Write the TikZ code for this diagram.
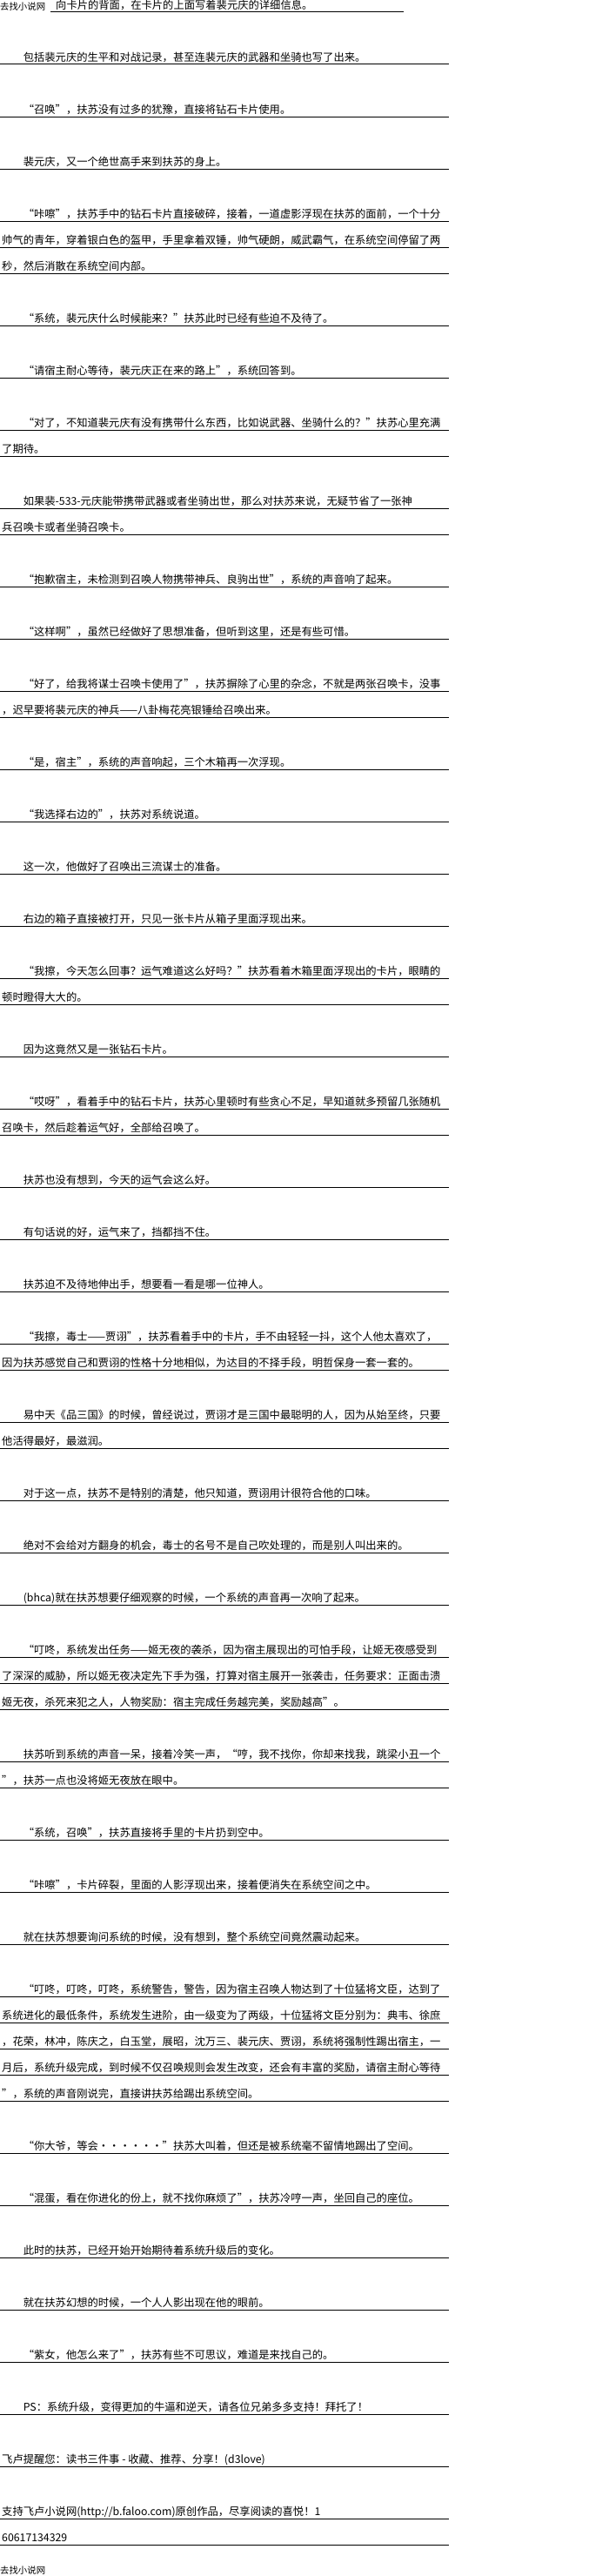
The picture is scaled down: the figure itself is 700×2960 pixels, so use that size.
\documentclass[tikz,border=0pt]{standalone}
\usepackage{fontspec}
\setmainfont{Noto Sans CJK SC}
\begin{document}
\begin{tikzpicture}[x=1pt,y=-1pt,
	txt/.style={anchor=base west,inner sep=0pt,font=\fontsize{12.3pt}{14pt}\selectfont},
	small/.style={anchor=base west,inner sep=0pt,font=\fontsize{10.4pt}{12pt}\selectfont}]
	\fill[white] (0,0) rectangle (700,2960);
	\useasboundingbox (0,0) rectangle (700,2960);
	% underlines
	\draw[line width=1pt] (58,14) -- (464,14);
	\foreach \r in {2,4,6,8,9,10,12,14,16,17,19,20,22,24,26,27,29,31,33,35,37,38,40,42,43,45,47,49,51,52,54,55,57,59,61,63,64,65,67,68,70,72,74,76,77,78,79,80,82,84,86,88,90,92,94,96,97}
		\draw[line width=1pt] (0,14+30*\r) -- +(516,0);
	% header and footer
	\node[small] (head) at (0,11.5) {去找小说网};
	\node[small] (foot) at (0,2957) {去找小说网};
	\node[txt] (r0) at (64,10.5) {向卡片的背面，在卡片的上面写着裴元庆的详细信息。};
	% first lines of paragraphs
	\foreach \r/\t in {2/包括裴元庆的生平和对战记录，甚至连裴元庆的武器和坐骑也写了出来。,
		4/“召唤”，扶苏没有过多的犹豫，直接将钻石卡片使用。,
		6/裴元庆，又一个绝世高手来到扶苏的身上。,
		8/“咔嚓”，扶苏手中的钻石卡片直接破碎，接着，一道虚影浮现在扶苏的面前，一个十分,
		12/“系统，裴元庆什么时候能来？”扶苏此时已经有些迫不及待了。,
		14/“请宿主耐心等待，裴元庆正在来的路上”，系统回答到。,
		16/“对了，不知道裴元庆有没有携带什么东西，比如说武器、坐骑什么的？”扶苏心里充满,
		19/如果裴-533-元庆能带携带武器或者坐骑出世，那么对扶苏来说，无疑节省了一张神,
		22/“抱歉宿主，未检测到召唤人物携带神兵、良驹出世”，系统的声音响了起来。,
		24/“这样啊”，虽然已经做好了思想准备，但听到这里，还是有些可惜。,
		26/“好了，给我将谋士召唤卡使用了”，扶苏摒除了心里的杂念，不就是两张召唤卡，没事,
		29/“是，宿主”，系统的声音响起，三个木箱再一次浮现。,
		31/“我选择右边的”，扶苏对系统说道。,
		33/这一次，他做好了召唤出三流谋士的准备。,
		35/右边的箱子直接被打开，只见一张卡片从箱子里面浮现出来。,
		37/“我擦，今天怎么回事？运气难道这么好吗？”扶苏看着木箱里面浮现出的卡片，眼睛的,
		40/因为这竟然又是一张钻石卡片。,
		42/“哎呀”，看着手中的钻石卡片，扶苏心里顿时有些贪心不足，早知道就多预留几张随机,
		45/扶苏也没有想到，今天的运气会这么好。,
		47/有句话说的好，运气来了，挡都挡不住。,
		49/扶苏迫不及待地伸出手，想要看一看是哪一位神人。,
		51/“我擦，毒士——贾诩”，扶苏看着手中的卡片，手不由轻轻一抖，这个人他太喜欢了，,
		54/易中天《品三国》的时候，曾经说过，贾诩才是三国中最聪明的人，因为从始至终，只要,
		57/对于这一点，扶苏不是特别的清楚，他只知道，贾诩用计很符合他的口味。,
		59/绝对不会给对方翻身的机会，毒士的名号不是自己吹处理的，而是别人叫出来的。,
		61/(bhca)就在扶苏想要仔细观察的时候，一个系统的声音再一次响了起来。,
		63/“叮咚，系统发出任务——姬无夜的袭杀，因为宿主展现出的可怕手段，让姬无夜感受到,
		67/扶苏听到系统的声音一呆，接着冷笑一声，“哼，我不找你，你却来找我，跳梁小丑一个,
		70/“系统，召唤”，扶苏直接将手里的卡片扔到空中。,
		72/“咔嚓”，卡片碎裂，里面的人影浮现出来，接着便消失在系统空间之中。,
		74/就在扶苏想要询问系统的时候，没有想到，整个系统空间竟然震动起来。,
		76/“叮咚，叮咚，叮咚，系统警告，警告，因为宿主召唤人物达到了十位猛将文臣，达到了,
		82/“你大爷，等会······”扶苏大叫着，但还是被系统毫不留情地踢出了空间。,
		84/“混蛋，看在你进化的份上，就不找你麻烦了”，扶苏冷哼一声，坐回自己的座位。,
		86/此时的扶苏，已经开始开始期待着系统升级后的变化。,
		88/就在扶苏幻想的时候，一个人人影出现在他的眼前。,
		90/“紫女，他怎么来了”，扶苏有些不可思议，难道是来找自己的。,
		92/PS：系统升级，变得更加的牛逼和逆天，请各位兄弟多多支持！拜托了！}
		\node[txt] (r\r) at (26.6,10.5+30*\r) {\t};
	% continued lines
	\foreach \r/\t in {9/帅气的青年，穿着银白色的盔甲，手里拿着双锤，帅气硬朗，威武霸气，在系统空间停留了两,
		10/秒，然后消散在系统空间内部。,
		17/了期待。,
		20/兵召唤卡或者坐骑召唤卡。,
		27/，迟早要将裴元庆的神兵——八卦梅花亮银锤给召唤出来。,
		38/顿时瞪得大大的。,
		43/召唤卡，然后趁着运气好，全部给召唤了。,
		52/因为扶苏感觉自己和贾诩的性格十分地相似，为达目的不择手段，明哲保身一套一套的。,
		55/他活得最好，最滋润。,
		64/了深深的威胁，所以姬无夜决定先下手为强，打算对宿主展开一张袭击，任务要求：正面击溃,
		65/姬无夜，杀死来犯之人，人物奖励：宿主完成任务越完美，奖励越高”。,
		68/”，扶苏一点也没将姬无夜放在眼中。,
		77/系统进化的最低条件，系统发生进阶，由一级变为了两级，十位猛将文臣分别为：典韦、徐庶,
		78/，花荣，林冲，陈庆之，白玉堂，展昭，沈万三、裴元庆、贾诩，系统将强制性踢出宿主，一,
		79/月后，系统升级完成，到时候不仅召唤规则会发生改变，还会有丰富的奖励，请宿主耐心等待,
		80/”，系统的声音刚说完，直接讲扶苏给踢出系统空间。,
		94/飞卢提醒您：读书三件事 - 收藏、推荐、分享！(d3love),
		97/60617134329}
		\node[txt] (r\r) at (2,10.5+30*\r) {\t};
	\node[txt] (r96) at (2,10.5+30*96) {支持飞卢小说网(http://b.faloo.com)原创作品，尽享阅读的喜悦！1};
\end{tikzpicture}
\end{document}
